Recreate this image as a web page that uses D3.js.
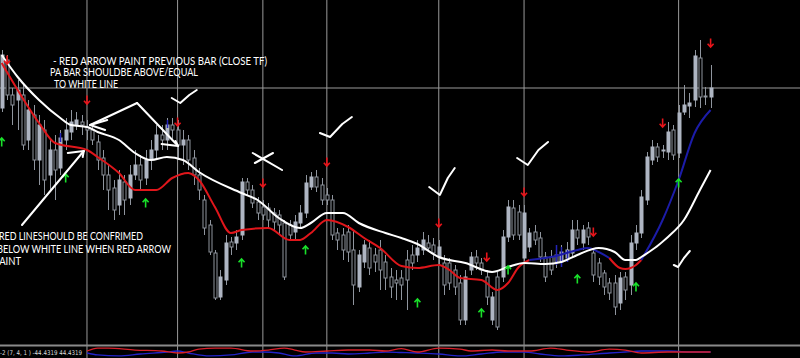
<!DOCTYPE html>
<html>
<head>
<meta charset="utf-8">
<title>Red arrow / white line</title>
<script src="https://cdn.jsdelivr.net/npm/d3@7"></script>
<style>
  body { margin: 0; background: #000; }
  svg { display: block; }
  .note { fill: #fff; font-family: Lato, "Open Sans", sans-serif; font-size: 11.5px; }
  .small { fill: #ddd; font-family: "DejaVu Sans", sans-serif; font-size: 6.5px; }
</style>
</head>
<body>
<div id="chart"></div>
<script>
// candles, price units
var opens  = [242,290,255,250,255,210,235,190,220,175,200,182,210,218,225,228,223,220,208,192,175,162,145,168,152,175,185,172,190,200,215,210,225,220,205,210,192,175,150,125,97,53,70,108,107,115,168,160,148,143,142,137,135,127,125,118,127,137,163,173,165,155,150,117,115,118,100,63,88,102,95,100,88,73,70,72,90,95,95,100,107,105,93,87,87,80,67,30,80,93,87,73,30,73,73,113,142,138,92,103,118,112,93,93,95,88,92,97,120,107,122,97,87,77,67,67,47,73,65,107,117,150,190,203,199,198,220,197,238,244,250,292,254,253];
var highs  = [300,295,262,270,265,250,245,235,230,210,215,220,232,240,238,235,230,225,215,200,185,170,180,175,185,200,195,200,210,225,225,232,232,230,220,215,200,182,155,130,100,80,115,113,120,172,172,165,153,150,147,142,140,130,130,135,145,175,178,180,172,162,155,122,122,125,120,100,110,110,102,110,95,82,80,80,100,105,110,118,115,112,110,95,92,85,75,80,98,100,92,80,58,78,120,150,150,145,145,122,125,118,98,100,100,105,108,130,130,125,128,100,92,80,72,75,78,78,115,125,160,198,210,207,205,228,225,245,265,257,300,310,263,285];
var lows   = [238,250,225,220,200,200,180,165,155,160,150,175,200,210,220,215,210,205,180,160,140,130,135,135,145,170,160,165,180,190,200,200,210,190,185,180,165,150,115,95,50,50,65,95,100,110,155,142,130,130,122,120,115,70,110,110,122,132,160,158,145,145,110,100,90,88,45,58,82,75,78,60,60,52,50,50,40,80,88,95,98,90,85,55,60,55,25,25,75,80,75,45,25,20,68,108,110,110,88,98,105,88,68,75,82,85,88,92,105,100,105,68,65,55,50,35,40,50,55,100,112,145,185,188,192,190,190,192,235,232,243,242,245,242];
var closes = [295,255,245,260,205,240,190,225,170,200,180,212,220,228,230,225,220,210,190,175,160,140,170,150,175,185,170,190,200,215,210,225,220,205,210,190,175,160,122,98,52,73,107,103,113,168,160,147,137,135,130,128,125,73,115,128,137,167,173,163,150,150,115,110,100,98,65,95,105,82,88,80,72,63,67,65,70,87,102,110,102,97,103,65,67,63,30,73,93,87,80,53,53,23,113,143,115,115,137,117,110,93,73,80,88,98,100,120,112,120,113,75,73,63,57,43,72,60,107,117,153,193,203,193,200,218,195,237,245,247,294,253,253,262];

// dark blue marks of a second indicator
var markBars = [11,31,104,105,106];
var markHi   = [217,230,105,103,100];
var markLo   = [208,222,85,83,88];

// moving averages read at selected bars
var slowBars = [0,3,7,11,13,16,18,22,25,28,31,34,37,45,48,52,56,58,61,64,67,72,75,78,82,87,92,95,98,102,105,108,112,115,117,119,120,125,128,131,133];
var slowMA   = [295,273,250,232,225,223,218,210,197,190,193,190,178,157,150,132,122,127,137,137,127,117,112,106,93,87,78,83,87,86,88,95,102,98,90,90,93,113,130,160,180];
var redBars  = [0,3,7,10,16,18,22,25,29,32,35,37,40,43,45,50,54,56,58,61,65,68,71,75,78,82,84,86,90,93,95,97,99];
var redMA    = [287,260,227,207,200,193,177,160,160,172,177,170,143,117,120,122,110,110,117,130,123,112,102,84,82,85,80,72,70,60,67,83,90];
var blueBars = [99,104,108,110,112,114];
var blueMA   = [90,94,100,102,98,92];
var red2Bars = [114,116,117,119,120];
var red2MA   = [92,82,81,85,90];
var blue2Bars = [120,124,127,130,133];
var blue2MA   = [90,130,170,217,240];

// signal arrows [bar, price]
var sellBars = [1,16,33,49,61,82,91,98,111,124,133];
var sellAt   = [290,250,228,167,188,127,93,158,118,227,307];
var buyBars  = [0,12,27,45,57,78,90,95,108,119,127];
var buyAt    = [208,172,147,87,100,47,37,80,71,63,167];

// time grid (bar index) and price grid
var gridBars = [16,33,49,61,82,98,127];
var gridPrices = [262];

// oscillator sub window
var oscRedBars = [16,18,20,25,30,33,35,37,40,43,47,50,53,55,57,61,65,69,72,75,78,82,86,88,92,95,99,103,106,110,114,117,120,125,129,133];
var oscRed     = [12,36,36,20,12,-4,4,28,36,36,12,20,36,20,4,12,20,20,12,32,4,36,28,12,20,12,12,36,20,4,28,20,-4,4,4,4];
var oscBlueBars = [16,18,22,26,31,33,35,39,43,47,49,52,55,59,62,65,69,72,75,78,82,86,90,94,98,101,105,109,114,117,120,125,129,133];
var oscBlue     = [-4,-20,-28,-12,4,12,-4,-28,-20,4,4,-4,-28,-4,-4,-12,-4,4,0,-4,-12,-28,-12,4,4,-12,-28,-20,-4,4,12,12,4,4];

var width = 800, height = 358, mainBottom = 345;

var svg = d3.select("#chart").append("svg")
    .attr("width", width).attr("height", height)
    .style("background", "#000");

var x = d3.scaleLinear().domain([0, 133]).range([1.7, 710.6]);
var y = d3.scaleLinear().domain([5, 350]).range([mainBottom, 0]);
var oy = d3.scaleLinear().domain([-44.4319, 44.4319]).range([358, 347]);

// grid
svg.append("g").selectAll("line").data(gridBars).enter().append("line")
    .attr("x1", d => x(d)).attr("x2", d => x(d))
    .attr("y1", 0).attr("y2", height)
    .attr("stroke", "#9a9a9a").attr("stroke-width", 1);
svg.append("g").selectAll("line").data(gridPrices).enter().append("line")
    .attr("x1", 0).attr("x2", width)
    .attr("y1", d => y(d)).attr("y2", d => y(d))
    .attr("stroke", "#9a9a9a").attr("stroke-width", 1);

// candles
var idx = d3.range(opens.length);
var candles = svg.append("g");
candles.selectAll("line").data(idx).enter().append("line")
    .attr("x1", i => Math.round(x(i)) + 0.5).attr("x2", i => Math.round(x(i)) + 0.5)
    .attr("y1", i => y(highs[i])).attr("y2", i => y(lows[i]))
    .attr("stroke", "#8f959e").attr("stroke-width", 1);
candles.selectAll("rect").data(idx).enter().append("rect")
    .attr("x", i => Math.round(x(i)) - 1)
    .attr("width", 3)
    .attr("y", i => y(Math.max(opens[i], closes[i])))
    .attr("height", i => Math.max(1, Math.abs(y(opens[i]) - y(closes[i]))))
    .attr("fill", i => closes[i] > opens[i] ? "#aeb5c2" : "#000")
    .attr("stroke", i => closes[i] > opens[i] ? "#aeb5c2" : "#8f959e")
    .attr("stroke-width", 1);

svg.append("g").selectAll("line").data(d3.range(markBars.length)).enter().append("line")
    .attr("x1", k => Math.round(x(markBars[k])) + 0.5).attr("x2", k => Math.round(x(markBars[k])) + 0.5)
    .attr("y1", k => y(markHi[k])).attr("y2", k => y(markLo[k]))
    .attr("stroke", "#2424b8").attr("stroke-width", 1.5);

// moving averages
function maLine(bars, vals, color, w) {
    svg.append("path")
        .datum(d3.range(bars.length))
        .attr("fill", "none")
        .attr("stroke", color)
        .attr("stroke-width", w)
        .attr("d", d3.line().curve(d3.curveMonotoneX)
            .x(k => x(bars[k])).y(k => y(vals[k])));
}
maLine(redBars, redMA, "#e0161b", 2);
maLine(blueBars, blueMA, "#1c1ca8", 2);
maLine(red2Bars, red2MA, "#e0161b", 2);
maLine(blue2Bars, blue2MA, "#1c1ca8", 2);
maLine(slowBars, slowMA, "#ffffff", 2);

// arrows
function arrows(bars, at, color, up) {
    var s = up ? -1 : 1;
    svg.append("g").selectAll("path").data(d3.range(bars.length)).enter().append("path")
        .attr("transform", k => "translate(" + x(bars[k]) + "," + y(at[k]) + ")")
        .attr("d", "M0," + (-4.5 * s) + "L0," + (4 * s) + "M-3," + (0.8 * s) + "L0," + (4 * s) + "L3," + (0.8 * s))
        .attr("fill", "none").attr("stroke", color).attr("stroke-width", 1.6);
}
arrows(sellBars, sellAt, "#e8141a", false);
arrows(buyBars, buyAt, "#19e02a", true);

// hand drawn marks, in chart units
var pen = d3.line().x(d => x(d[0])).y(d => y(d[1]));
var strokes = [
    [[25.4,247],[16.6,225]], [[16.6,225],[19.8,230]], [[16.6,225],[19.4,220]],
    [[25.4,247],[33.1,204]], [[33.1,204],[30.0,206]], [[33.1,204],[32.6,209]],
    [[3.8,125],[15.4,199]], [[15.4,199],[12.4,197]], [[15.4,199],[15.2,193]],
    [[31.9,252],[33.5,247],[35.2,255],[36.6,260]],
    [[47.1,197],[52.6,180]], [[47.5,187],[50.9,197]],
    [[59.7,217],[61.6,213],[63.9,226],[65.7,233]],
    [[80.2,163],[82.2,155],[83.7,172],[85,182]],
    [[96.7,192],[98.7,185],[100.7,200],[102.5,208]],
    [[126.1,85],[126.9,83],[128,92],[129.1,99]]
];
svg.append("g").selectAll("path").data(strokes).enter().append("path")
    .attr("d", pen).attr("fill", "none")
    .attr("stroke", "#fff").attr("stroke-width", 2)
    .attr("stroke-linecap", "round").attr("stroke-linejoin", "round");

// notes
var notes = [
    {t: "-  RED ARROW PAINT  PREVIOUS  BAR (CLOSE TF)", x: 53, y: 65, w: 214},
    {t: "PA BAR SHOULDBE ABOVE/EQUAL", x: 50, y: 76, w: 148},
    {t: "TO WHITE LINE", x: 54, y: 88, w: 64},
    {t: "RED LINESHOULD BE CONFRIMED", x: -1, y: 240, w: 144},
    {t: "BELOW WHITE LINE WHEN RED ARROW", x: -3, y: 253, w: 174},
    {t: "PAINT", x: -6, y: 265, w: 27}
];
svg.append("g").selectAll("text").data(notes).enter().append("text")
    .attr("class", "note")
    .attr("x", d => d.x).attr("y", d => d.y)
    .attr("textLength", d => d.w).attr("lengthAdjust", "spacingAndGlyphs")
    .text(d => d.t);

// sub window
svg.append("line").attr("x1", 0).attr("x2", width)
    .attr("y1", mainBottom + 0.5).attr("y2", mainBottom + 0.5)
    .attr("stroke", "#8a8a8a").attr("stroke-width", 2);
var oscLine = function (bars, vals) {
    return d3.line().curve(d3.curveMonotoneX)
        .x(k => x(bars[k])).y(k => oy(vals[k]))(d3.range(bars.length));
};
svg.append("path").attr("d", oscLine(oscBlueBars, oscBlue))
    .attr("fill", "none").attr("stroke", "#2323c8").attr("stroke-width", 1.3);
svg.append("path").attr("d", oscLine(oscRedBars, oscRed))
    .attr("fill", "none").attr("stroke", "#d8202a").attr("stroke-width", 1.3);
svg.append("text").attr("class", "small")
    .attr("x", 0).attr("y", 354.5)
    .attr("textLength", 82).attr("lengthAdjust", "spacingAndGlyphs")
    .text("-2 (7, 4, 1 ) -44.4319 44.4319");
</script>
</body>
</html>
